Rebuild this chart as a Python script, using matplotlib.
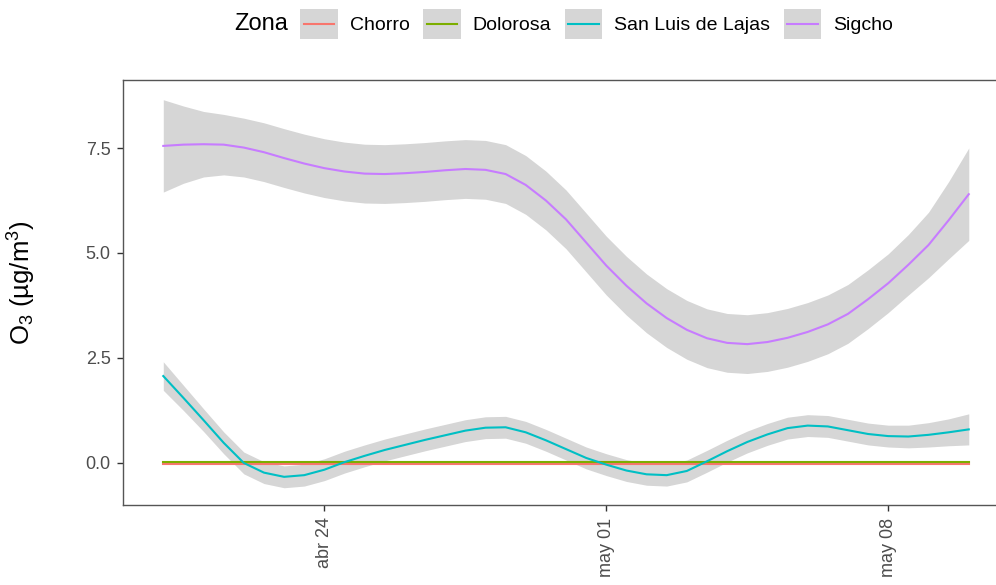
import numpy as np
import matplotlib
matplotlib.use("Agg")
import matplotlib.pyplot as plt
from matplotlib.legend_handler import HandlerBase
from matplotlib.patches import Rectangle
from matplotlib.lines import Line2D

plt.rcParams['font.family'] = ['Liberation Sans', 'DejaVu Sans']
plt.rcParams['mathtext.fontset'] = 'custom'
plt.rcParams['mathtext.rm'] = 'Liberation Sans'
plt.rcParams['mathtext.it'] = 'Liberation Sans:italic'

# smoothed curves read every half day, 20 abr -> 10 may
start = np.datetime64('2021-04-20T00:00')
t = start + np.arange(41) * np.timedelta64(12, 'h')

sigcho = [7.55, 7.58, 7.59, 7.58, 7.51, 7.40, 7.26, 7.13, 7.02, 6.94,
          6.89, 6.88, 6.90, 6.93, 6.97, 7.00, 6.98, 6.88, 6.62, 6.25,
          5.80, 5.25, 4.70, 4.22, 3.80, 3.45, 3.17, 2.97, 2.86, 2.83,
          2.88, 2.98, 3.12, 3.30, 3.55, 3.90, 4.28, 4.72, 5.19, 5.78, 6.40]
sigcho_se = [1.10, 0.92, 0.78, 0.72, 0.70, 0.70, 0.70, 0.70, 0.70, 0.70,
             0.70, 0.70, 0.70, 0.70, 0.70, 0.70, 0.70, 0.70, 0.70, 0.70,
             0.70, 0.70, 0.70, 0.70, 0.70, 0.70, 0.70, 0.70, 0.70, 0.70,
             0.70, 0.70, 0.70, 0.70, 0.70, 0.70, 0.70, 0.72, 0.78, 0.92, 1.10]

sanluis = [2.07, 1.55, 1.02, 0.48, 0.00, -0.23, -0.33, -0.29, -0.16, 0.02,
           0.17, 0.31, 0.43, 0.55, 0.66, 0.77, 0.84, 0.85, 0.73, 0.54,
           0.33, 0.12, -0.04, -0.18, -0.27, -0.29, -0.19, 0.04, 0.28, 0.50,
           0.68, 0.83, 0.89, 0.87, 0.78, 0.69, 0.64, 0.63, 0.67, 0.73, 0.80]
sanluis_se = [0.34, 0.30, 0.27, 0.26, 0.26, 0.26, 0.26, 0.26, 0.26, 0.26,
              0.26, 0.26, 0.26, 0.26, 0.26, 0.26, 0.26, 0.26, 0.26, 0.26,
              0.26, 0.26, 0.26, 0.26, 0.26, 0.26, 0.26, 0.26, 0.26, 0.26,
              0.26, 0.26, 0.26, 0.26, 0.26, 0.26, 0.26, 0.27, 0.29, 0.32, 0.37]

flat_t = np.array(['2021-04-20', '2021-04-30', '2021-05-10'], dtype='datetime64[D]')
chorro = [-0.02, -0.02, -0.02]
dolorosa = [0.03, 0.03, 0.03]

zonas = ['Chorro', 'Dolorosa', 'San Luis de Lajas', 'Sigcho']
colores = ['#F8766D', '#7CAE00', '#00BFC4', '#C77CFF']

tick_dates = np.array(['2021-04-24', '2021-05-01', '2021-05-08'], dtype='datetime64[D]')
tick_labels = ['abr 24', 'may 01', 'may 08']

fig = plt.figure(figsize=(9.96, 5.85), dpi=100)
ax = fig.add_axes([0.1235, 0.1368, 0.8896, 0.7265])

series = [
    (flat_t, chorro, None),
    (flat_t, dolorosa, None),
    (t, sanluis, sanluis_se),
    (t, sigcho, sigcho_se),
]
handles = []
for (x, y, se), name, col in zip(series, zonas, colores):
    y = np.array(y)
    if se is not None:
        se = np.array(se)
        ax.fill_between(x, y - se, y + se, color='#999999', alpha=0.4, lw=0)
    ln, = ax.plot(x, y, color=col, lw=1.5, label=name)
    handles.append(ln)

ax.set_xlim(np.datetime64('2021-04-19'), np.datetime64('2021-05-11'))
ax.set_ylim(-1.0, 9.12)
ax.set_xticks(tick_dates)
ax.set_xticklabels(tick_labels, rotation=90, ha='center', va='top')
ax.set_yticks([0, 2.5, 5.0, 7.5])
ax.set_yticklabels(['0.0', '2.5', '5.0', '7.5'])
ax.tick_params(labelsize=13, labelcolor='#4D4D4D', color='#333333',
               length=4, width=1, pad=5)
for s in ax.spines.values():
    s.set_color('#555555')
    s.set_linewidth(1.0)

ax.set_ylabel(r'O$_{3}$ (µg/m$^{3}$)', fontsize=18.5)
ax.yaxis.set_label_coords(-0.096, 0.522)


class KeyHandler(HandlerBase):
    def create_artists(self, legend, orig_handle, xdescent, ydescent,
                       width, height, fontsize, trans):
        box = Rectangle((-xdescent, -ydescent), width, height,
                        facecolor='#D6D6D6', edgecolor='none', transform=trans)
        yc = -ydescent + height / 2
        line = Line2D([-xdescent + 0.1 * width, -xdescent + 0.9 * width], [yc, yc],
                      color=orig_handle.get_color(), lw=1.5, transform=trans)
        return [box, line]


fig.legend(handles=handles, labels=zonas, ncol=4, frameon=False,
           loc='center left', bbox_to_anchor=(300 / 996, 1 - 24 / 585),
           fontsize=14, handlelength=1.95, handleheight=1.95,
           handletextpad=0.62, columnspacing=0.67, borderpad=0,
           borderaxespad=0, handler_map={Line2D: KeyHandler()})
fig.text(288 / 996, 1 - 24 / 585, 'Zona', fontsize=17, ha='right', va='center')

fig.savefig('out.png', dpi=100)
